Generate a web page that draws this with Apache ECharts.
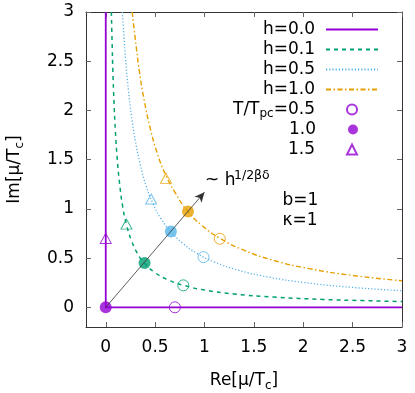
<!DOCTYPE html>
<html style="height: 100%">
<head>
<meta charset="utf-8">
<script src="https://cdn.jsdelivr.net/npm/echarts@6/dist/echarts.min.js"></script>
</head>
<body style="height: 100%; margin: 0; background: #fff">
<div id="container" style="width: 415px; height: 393px"></div>
<script type="text/javascript">
// tick values
var ticks = [0, 0.5, 1, 1.5, 2, 2.5, 3];

// curves [Re, Im]
var h00 = [[0, 3], [0, 0], [3, 0]];
var h01 = [[0.057, 3.0], [0.064, 2.7], [0.072, 2.4], [0.083, 2.1], [0.097, 1.8], [0.117, 1.5],
    [0.14, 1.26], [0.17, 1.035], [0.21, 0.84], [0.26, 0.68], [0.32, 0.55], [0.39, 0.45],
    [0.5, 0.352], [0.62, 0.284], [0.78, 0.226], [1.0, 0.176], [1.3, 0.135], [1.7, 0.104],
    [2.2, 0.08], [2.6, 0.068], [3.0, 0.059]];
var h05 = [[0.168, 3.0], [0.185, 2.74], [0.2, 2.53], [0.23, 2.2], [0.26, 1.95], [0.3, 1.69],
    [0.35, 1.45], [0.41, 1.23], [0.48, 1.05], [0.56, 0.9], [0.66, 0.77], [0.78, 0.65],
    [0.92, 0.55], [1.1, 0.46], [1.35, 0.375], [1.65, 0.307], [2.0, 0.253], [2.5, 0.202], [3.0, 0.169]];
var h10 = [[0.268, 3.0], [0.3, 2.72], [0.34, 2.4], [0.39, 2.1], [0.45, 1.82], [0.52, 1.57],
    [0.6, 1.36], [0.7, 1.17], [0.83, 0.975], [0.97, 0.835], [1.15, 0.705], [1.4, 0.58],
    [1.7, 0.477], [2.05, 0.395], [2.5, 0.324], [3.0, 0.27]];

// points for h = 0.0, 0.1, 0.5, 1.0
var openPts = [[0.70, 0], [0.785, 0.223], [0.99, 0.51], [1.155, 0.696]];
var filledPts = [[0, 0], [0.393, 0.45], [0.66, 0.77], [0.833, 0.973]];
var triPts = [[0, 0.70], [0.21, 0.845], [0.46, 1.10], [0.61, 1.31]];
var arrowEnd = [1.0, 1.17];

var names = ['h=0.0', 'h=0.1', 'h=0.5', 'h=1.0', 'T/Tpc=0.5', '1.0', '1.5'];
var colors = ['#9400d3', '#009e73', '#56b4e9', '#e69f00'];
var font = 'DejaVu Sans';

var dom = document.getElementById('container');
var myChart = echarts.init(dom);

function pts(arr, key) {
    return arr.map(function (p, i) {
        var st = {};
        st[key] = colors[i];
        return { value: p, itemStyle: st };
    });
}

var legends = names.map(function (n, i) {
    var isLine = i < 4;
    var lg = {
        data: [n],
        right: isLine ? 36 : 57,
        top: 21 + i * 20,
        orient: 'vertical',
        align: 'right',
        itemWidth: isLine ? 52 : 10,
        itemHeight: isLine ? 11 : 10,
        padding: 0,
        selectedMode: false,
        formatter: function (name) {
            if (name == 'T/Tpc=0.5') return '{a|T/T}{s|pc}{a|=0.5}';
            return '{a|' + name + '}';
        },
        textStyle: {
            color: '#000',
            fontFamily: font,
            fontSize: 17,
            padding: [0, isLine ? 6 : 27, 0, 0],
            rich: {
                a: { fontFamily: font, fontSize: 17, color: '#000', lineHeight: 20 },
                s: { fontFamily: font, fontSize: 12, color: '#000', verticalAlign: 'bottom', lineHeight: 20, padding: [6, 0, 0, 0] }
            }
        }
    };
    if (isLine) lg.itemStyle = { color: 'transparent', borderColor: 'transparent', opacity: 0 };
    return lg;
});

function axisBase(pos, show) {
    return {
        type: 'value',
        position: pos,
        min: -0.2,
        max: 3,
        axisLine: { show: true, onZero: false, lineStyle: { color: '#333', width: 1 } },
        axisTick: { show: true, inside: true, length: 5, customValues: ticks, lineStyle: { color: '#666' } },
        axisLabel: { show: show, customValues: ticks, color: '#000', fontFamily: font, fontSize: 17, margin: 12 },
        splitLine: { show: false }
    };
}

var xMain = axisBase('bottom', true);
xMain.name = '{a|Re[μ/T}{s|c}{a|]}';
xMain.nameLocation = 'middle';
xMain.nameGap = 43;
xMain.nameTextStyle = {
    rich: {
        a: { fontFamily: font, fontSize: 17, color: '#000', lineHeight: 22 },
        s: { fontFamily: font, fontSize: 12, color: '#000', verticalAlign: 'bottom', lineHeight: 22, padding: [7, 0, 0, 0] }
    }
};
var yMain = axisBase('left', true);
yMain.name = '{a|Im[μ/T}{s|c}{a|]}';
yMain.nameLocation = 'middle';
yMain.nameGap = 60;
yMain.nameTextStyle = xMain.nameTextStyle;

var option = {
    animation: false,
    backgroundColor: '#fff',
    grid: { left: 86, right: 13, top: 12, bottom: 66, outerBoundsMode: 'none' },
    legend: legends,
    xAxis: [xMain, axisBase('top', false)],
    yAxis: [yMain, axisBase('right', false)],
    graphic: [
        { type: 'text', style: { x: 205, y: 181, text: '~ h', font: '17px "DejaVu Sans"', fill: '#000', textVerticalAlign: 'middle' } },
        { type: 'text', style: { x: 234, y: 175.5, text: '1/2βδ', font: '12.5px "DejaVu Sans"', fill: '#000', textVerticalAlign: 'middle' } },
        { type: 'text', style: { x: 282.5, y: 201, text: 'b=1', font: '17px "DejaVu Sans"', fill: '#000', textVerticalAlign: 'middle' } },
        { type: 'text', style: { x: 282.5, y: 221, text: 'κ=1', font: '17px "DejaVu Sans"', fill: '#000', textVerticalAlign: 'middle' } }
    ],
    series: [
        {
            name: names[0], type: 'line', data: h00, symbol: 'none', color: colors[0],
            lineStyle: { width: 1.8, color: colors[0] }, z: 2,
            markLine: {
                silent: true,
                symbol: ['none', 'arrow'],
                symbolSize: [7, 10],
                label: { show: false },
                lineStyle: { color: '#333', width: 0.8, type: 'solid' },
                data: [[{ coord: [0, 0] }, { coord: arrowEnd }]]
            }
        },
        {
            name: names[1], type: 'line', data: h01, symbol: 'none', smooth: true, color: colors[1],
            lineStyle: { width: 1.5, type: [4, 4], color: colors[1] }, z: 2
        },
        {
            name: names[2], type: 'line', data: h05, symbol: 'none', smooth: true, color: colors[2],
            lineStyle: { width: 1.3, type: [1.2, 2], color: colors[2] }, z: 2
        },
        {
            name: names[3], type: 'line', data: h10, symbol: 'none', smooth: true, color: colors[3],
            lineStyle: { width: 1.4, type: [5, 2.5, 1.5, 2.5], color: colors[3] }, z: 2
        },
        {
            name: names[4], type: 'scatter', data: pts(openPts, 'borderColor'), symbol: 'circle', symbolSize: 11,
            itemStyle: { color: 'transparent', borderColor: colors[0], borderWidth: 1 }, z: 3
        },
        {
            name: names[5], type: 'scatter', data: pts(filledPts, 'color'), symbol: 'circle', symbolSize: 12,
            itemStyle: { color: colors[0] }, z: 4
        },
        {
            name: names[6], type: 'scatter', data: pts(triPts, 'borderColor'), symbol: 'triangle', symbolSize: [11, 10],
            itemStyle: { color: 'transparent', borderColor: colors[0], borderWidth: 1 }, z: 3
        }
    ]
};
myChart.setOption(option);
</script>
</body>
</html>
